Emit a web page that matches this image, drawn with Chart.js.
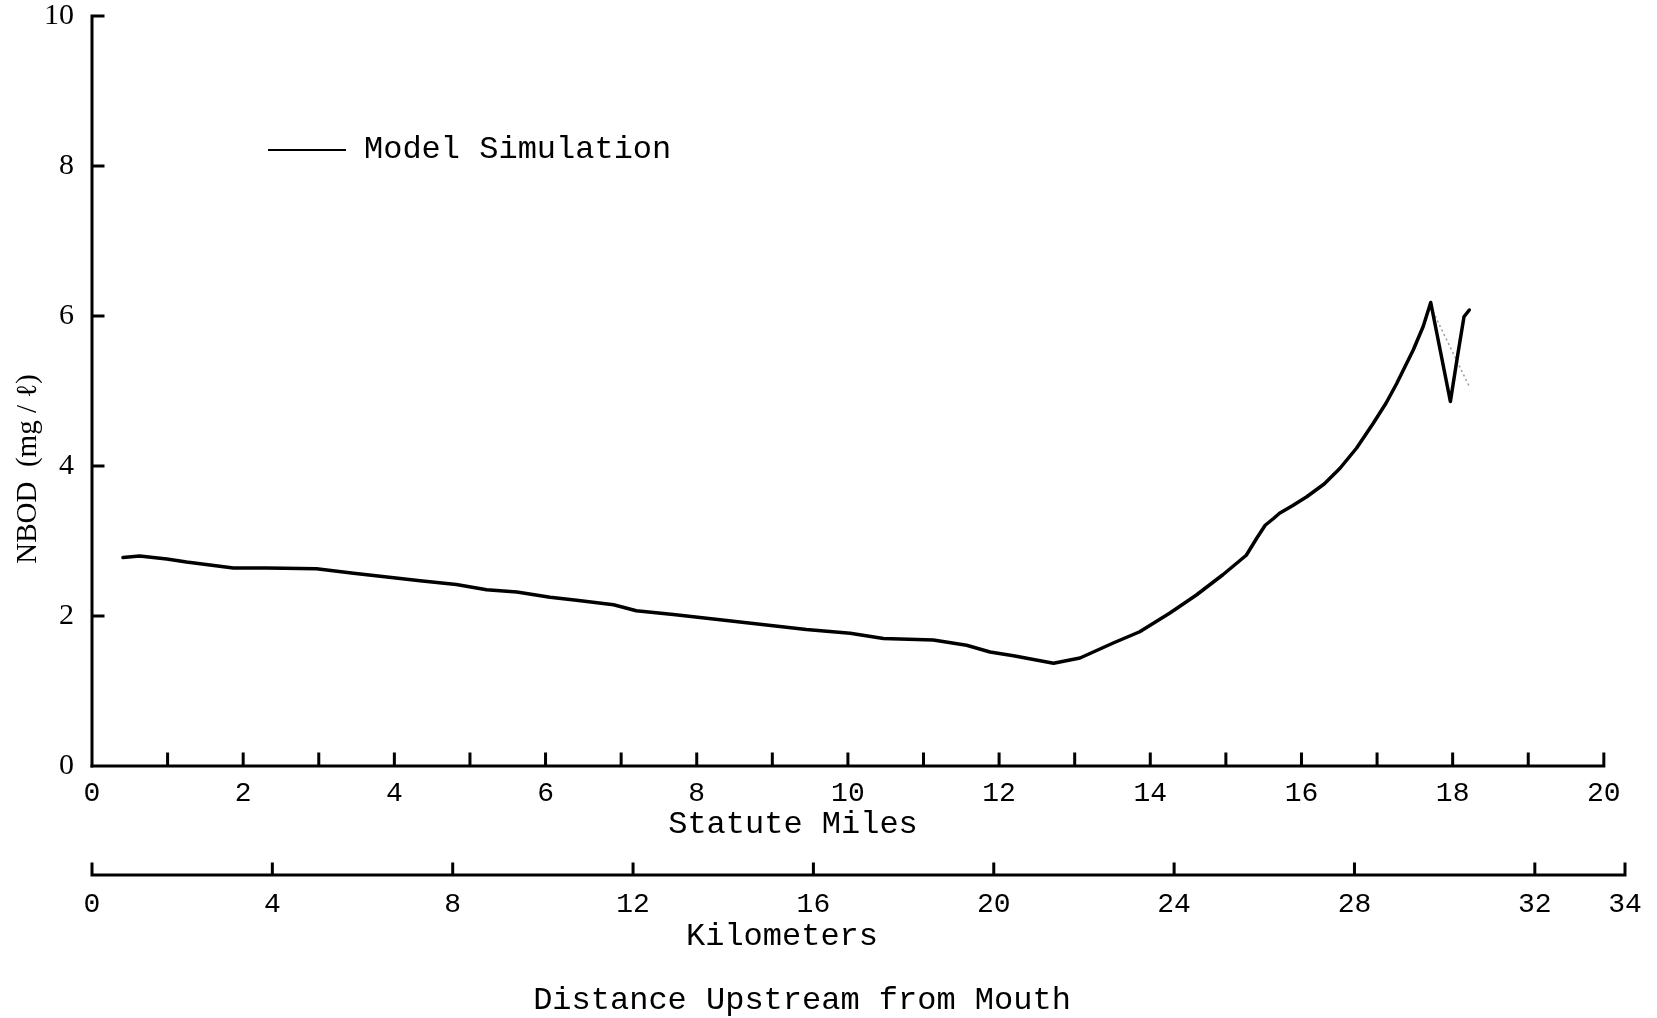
<!DOCTYPE html>
<html>
<head>
<meta charset="utf-8">
<script src="https://cdn.jsdelivr.net/npm/chart.js@4.4.1/dist/chart.umd.min.js"></script>
<style>
  html, body { margin: 0; padding: 0; background: #ffffff; }
  #wrap { width: 1657px; height: 1018px; position: relative; }
</style>
</head>
<body>
<div id="wrap"><canvas id="nbod" width="1657" height="1018"></canvas></div>
<script>
// Simulated NBOD profile along the river, distance in statute miles from the mouth
const milesDistance = [0.41, 0.63, 0.99, 1.25, 1.56, 1.87, 2.31, 2.97, 3.46, 3.99, 4.34, 4.82, 5.22, 5.62,
  6.06, 6.41, 6.90, 7.20, 7.69, 8.22, 8.66, 9.45, 10.03, 10.47, 11.13, 11.57, 11.88, 12.19, 12.72,
  13.07, 13.51, 13.86, 14.26, 14.61, 14.96, 15.27, 15.41, 15.52, 15.63, 15.71, 15.88, 16.07, 16.30,
  16.51, 16.73, 16.95, 17.12, 17.26, 17.48, 17.61, 17.71, 17.97, 18.07, 18.15, 18.22];
const nbodValues = [2.78, 2.80, 2.76, 2.72, 2.68, 2.64, 2.64, 2.63, 2.57, 2.51, 2.47, 2.42, 2.35, 2.32,
  2.25, 2.21, 2.15, 2.07, 2.02, 1.96, 1.91, 1.82, 1.77, 1.70, 1.68, 1.61, 1.52, 1.47, 1.37,
  1.44, 1.64, 1.79, 2.04, 2.28, 2.55, 2.81, 3.04, 3.21, 3.30, 3.37, 3.47, 3.59, 3.76,
  3.97, 4.24, 4.57, 4.84, 5.10, 5.55, 5.86, 6.18, 4.86, 5.50, 5.99, 6.08];

// Faint pencilled stroke near the upstream end
const pencilMiles = [17.74, 18.23];
const pencilValues = [6.06, 5.04];

// Axis ticks
const mileTicks = [0, 1, 2, 3, 4, 5, 6, 7, 8, 9, 10, 11, 12, 13, 14, 15, 16, 17, 18, 19, 20];
const kmTicks = [0, 4, 8, 12, 16, 20, 24, 28, 32, 34];
const nbodTicks = [0, 2, 4, 6, 8, 10];

// Text
const seriesName = 'Model Simulation';
const yTitle = 'NBOD  (mg / \u2113)';
const milesTitle = 'Statute Miles';
const kmTitle = 'Kilometers';
const distanceTitle = 'Distance Upstream from Mouth';

const MONO = '"Liberation Mono", "DejaVu Sans Mono", monospace';
const SERIF = '"Liberation Serif", "DejaVu Serif", serif';

const toPoints = (xs, ys) => xs.map((x, i) => ({ x: x, y: ys[i] }));

// Hand-ruled axes, inward ticks, titles and legend key
const drafting = {
  id: 'drafting',
  afterDraw(chart) {
    const ctx = chart.ctx;
    const x = chart.scales.x, km = chart.scales.km, y = chart.scales.y;
    const x0 = x.getPixelForValue(0), y0 = y.getPixelForValue(0);
    ctx.save();
    ctx.strokeStyle = '#000';
    ctx.lineCap = 'square';
    ctx.lineWidth = 3;

    // vertical axis with ticks pointing right
    ctx.beginPath();
    ctx.moveTo(x0, y0);
    ctx.lineTo(x0, y.getPixelForValue(10));
    nbodTicks.forEach(v => {
      if (v === 0) return;
      const py = y.getPixelForValue(v);
      ctx.moveTo(x0, py);
      ctx.lineTo(x0 + 11, py);
    });
    ctx.stroke();

    // miles axis with ticks pointing up
    ctx.beginPath();
    ctx.moveTo(x0, y0);
    ctx.lineTo(x.getPixelForValue(20), y0);
    mileTicks.forEach(v => {
      if (v === 0) return;
      const px = x.getPixelForValue(v);
      ctx.moveTo(px, y0);
      ctx.lineTo(px, y0 - 12);
    });
    ctx.stroke();

    // kilometre axis
    const ky = km.top;
    ctx.beginPath();
    ctx.moveTo(km.getPixelForValue(0), ky);
    ctx.lineTo(km.getPixelForValue(34), ky);
    kmTicks.forEach(v => {
      const px = km.getPixelForValue(v);
      ctx.moveTo(px, ky);
      ctx.lineTo(px, ky - 11);
    });
    ctx.stroke();

    // legend key
    const ds = chart.data.datasets[0];
    ctx.lineWidth = 2;
    ctx.lineCap = 'butt';
    ctx.beginPath();
    ctx.moveTo(268, 150);
    ctx.lineTo(346, 150);
    ctx.stroke();

    ctx.fillStyle = '#000';
    ctx.textBaseline = 'middle';
    ctx.textAlign = 'left';
    ctx.font = '32px ' + MONO;
    ctx.fillText(ds.label, 364, 150);

    // axis titles
    ctx.textAlign = 'center';
    ctx.fillText(milesTitle, 793, 825);
    ctx.fillText(kmTitle, 782, 937);
    ctx.fillText(distanceTitle, 802, 1001);

    ctx.translate(28, 469);
    ctx.rotate(-Math.PI / 2);
    ctx.font = '29px ' + SERIF;
    ctx.fillText(yTitle, 0, 0);
    ctx.restore();
  }
};

new Chart(document.getElementById('nbod'), {
  type: 'line',
  data: {
    datasets: [
      {
        label: seriesName,
        data: toPoints(milesDistance, nbodValues),
        borderColor: '#000',
        borderWidth: 3.5,
        pointRadius: 0,
        tension: 0,
        borderJoinStyle: 'round',
        borderCapStyle: 'round',
        fill: false
      },
      {
        label: '',
        data: toPoints(pencilMiles, pencilValues),
        borderColor: '#9a9a9a',
        borderWidth: 1.5,
        borderDash: [2, 3],
        pointRadius: 0,
        tension: 0,
        fill: false
      }
    ]
  },
  options: {
    responsive: false,
    devicePixelRatio: 1,
    animation: false,
    layout: { padding: { left: 0, top: 16, right: 32, bottom: 0 } },
    plugins: { legend: { display: false }, tooltip: { enabled: false } },
    scales: {
      x: {
        type: 'linear',
        position: 'bottom',
        weight: 0,
        min: 0,
        max: 20.28,
        border: { display: false },
        grid: { display: false, drawTicks: false },
        afterBuildTicks: s => { s.ticks = mileTicks.map(v => ({ value: v })); },
        afterFit: s => { s.height = 109; },
        ticks: {
          autoSkip: false,
          maxRotation: 0,
          padding: 11,
          color: '#000',
          font: { family: MONO, size: 28 },
          callback: v => (v % 2 === 0 ? String(v) : '')
        }
      },
      km: {
        type: 'linear',
        position: 'bottom',
        weight: 1,
        min: 0,
        max: 34,
        border: { display: false },
        grid: { display: false, drawTicks: false },
        afterBuildTicks: s => { s.ticks = kmTicks.map(v => ({ value: v })); },
        afterFit: s => { s.height = 143; },
        ticks: {
          autoSkip: false,
          maxRotation: 0,
          padding: 13,
          color: '#000',
          font: { family: MONO, size: 28 },
          callback: v => String(v)
        }
      },
      y: {
        type: 'linear',
        position: 'left',
        min: 0,
        max: 10,
        border: { display: false },
        grid: { display: false, drawTicks: false },
        afterBuildTicks: s => { s.ticks = nbodTicks.map(v => ({ value: v })); },
        afterFit: s => { s.width = 92; s.paddingTop = 0; s.paddingBottom = 0; },
        ticks: {
          padding: 18,
          color: '#000',
          font: { family: SERIF, size: 30 },
          callback: v => String(v)
        }
      }
    }
  },
  plugins: [drafting]
});
</script>
</body>
</html>
